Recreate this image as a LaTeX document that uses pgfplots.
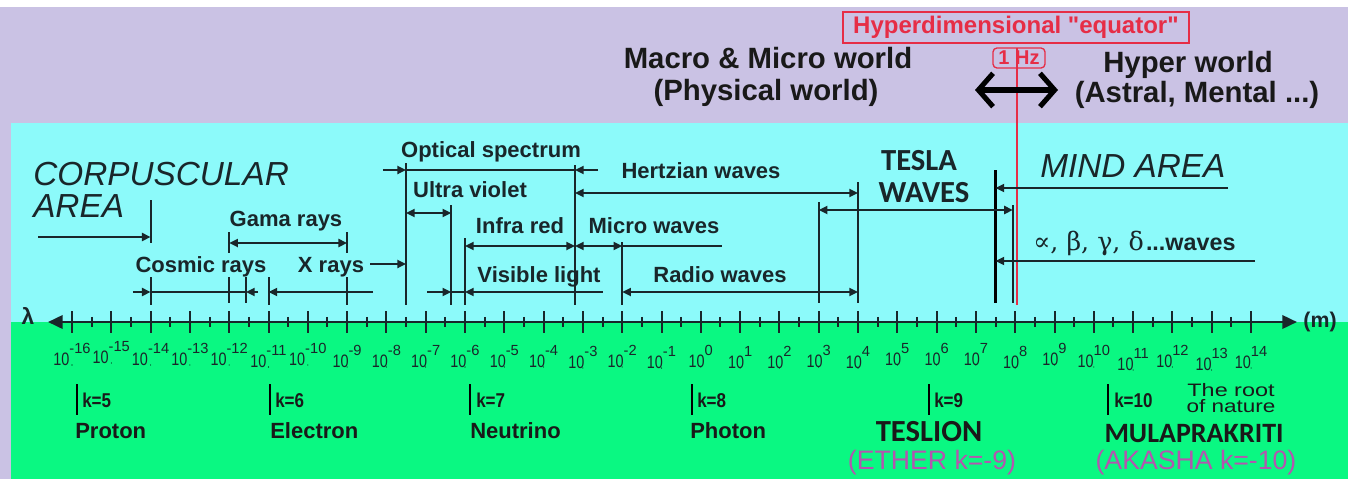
\documentclass[border=0pt]{standalone}
\usepackage{fontspec}
\setmainfont{Liberation Sans}
\newfontfamily\carlito{Carlito}
\newfontfamily\dvs{DejaVu Serif}
\newfontfamily\rawsans[Ligatures=TeXOff]{Liberation Sans}
\usepackage{graphicx}
\usepackage{pgfplots}
\pgfplotsset{compat=1.18}
\usetikzlibrary{arrows.meta}
\definecolor{lav}{RGB}{202,194,228}
\definecolor{cya}{RGB}{140,250,250}
\definecolor{grn}{RGB}{10,248,130}
\definecolor{dk}{RGB}{25,38,42}
\definecolor{rd}{RGB}{230,45,70}
\definecolor{pur}{RGB}{180,85,175}
\newcommand\fs[1]{\fontsize{#1}{#1}\selectfont}
\tikzset{
  ln/.style={dk, line width=1.5pt},
  ar/.style={-{Triangle[length=6.5pt,width=6pt]}},
  aa/.style={{Triangle[length=6.5pt,width=6pt]}-{Triangle[length=6.5pt,width=6pt]}},
  lab/.style={font=\fs{16.5}\bfseries, text=dk, inner sep=0pt, anchor=base},
  big/.style={font=\fs{22}\bfseries, text=black!90, inner sep=0pt, anchor=base},
  bl/.style={font=\fs{16.5}\bfseries, text=black!90, inner sep=0pt, anchor=base west},
  kl/.style={font=\fs{15}\bfseries, text=black!90, inner sep=0pt, anchor=base west},
}
\begin{document}
\begin{tikzpicture}
\begin{axis}[
  scale only axis, width=1011pt, height=359.25pt,
  xmin=-17.832, xmax=16.468, ymin=0, ymax=479, y dir=reverse,
  hide axis, clip=false,
]
% backgrounds
\addplot[fill=white, draw=none] coordinates {(-17.832,0) (16.468,0) (16.468,479) (-17.832,479)};
\addplot[fill=lav, draw=none] coordinates {(-17.832,7) (16.468,7) (16.468,123) (-17.832,123)};
\addplot[fill=lav, draw=none] coordinates {(-17.832,7) (-17.552,7) (-17.552,479) (-17.832,479)};
\addplot[fill=cya, draw=none] coordinates {(-17.552,123) (16.468,123) (16.468,322) (-17.552,322)};
\addplot[fill=grn, draw=none] coordinates {(-17.552,322) (16.468,322) (16.468,479) (-17.552,479)};

% wavelength axis
\addplot[dk, line width=1.9pt, {Triangle[length=11pt,width=10pt]}-{Triangle[length=11pt,width=10pt]}] coordinates {(-16.611,322) (15.17,322)};
\addplot[only marks, mark=|, mark size=7.9pt, mark options={dk, line width=1.5pt}] coordinates {
(-16,322) (-15,322) (-14,322) (-13,322) (-12,322) (-11,322) (-10,322) (-9,322) (-8,322) (-7,322)
(-6,322) (-5,322) (-4,322) (-3,322) (-2,322) (-1,322) (0,322) (1,322) (2,322) (3,322) (4,322)
(5,322) (6,322) (7,322) (8,322) (9,322) (10,322) (11,322) (12,322) (13,322) (14,322)};
\addplot[only marks, mark=|, mark size=3.8pt, mark options={dk, line width=1.5pt}] coordinates {
(-15.5,322) (-14.5,322) (-13.5,322) (-12.5,322) (-11.5,322) (-10.5,322) (-9.5,322) (-8.5,322) (-7.5,322)
(-6.5,322) (-5.5,322) (-4.5,322) (-3.5,322) (-2.5,322) (-1.5,322) (-0.5,322) (0.5,322) (1.5,322) (2.5,322)
(3.5,322) (4.5,322) (5.5,322) (6.5,322) (7.5,322) (8.5,322) (9.5,322) (10.5,322) (11.5,322) (12.5,322) (13.5,322)};
\addplot[only marks, mark=*, mark size=0.1pt, mark options={draw=none, fill=none},
  point meta=explicit symbolic,
  nodes near coords={\fs{13.5}\scalebox{0.8}[1]{10}\raisebox{9pt}{\fs{11}\pgfplotspointmeta}},
  every node near coord/.append style={anchor=base, inner sep=0pt, text=dk}]
  table[x=x, y=y, meta=e] {
x y e
-16 365 -16
-15 363 -15
-14 365 -14
-13 365 -13
-12 365 -12
-11 367 -11
-10 365 -10
-9 367 -9
-8 367 -8
-7 367 -7
-6 367 -6
-5 367 -5
-4 367 -4
-3 368 -3
-2 367 -2
-1 368 -1
0 367 0
1 368 1
2 368 2
3 367 3
4 368 4
5 365 5
6 365 6
7 365 7
8 368 8
9 365 9
10 367 10
11 370 11
12 367 12
13 370 13
14 368 14
};

% vertical bars
\addplot[ln] coordinates {(-14,200) (-14,243)};
\addplot[ln] coordinates {(-14,277) (-14,305)};
\addplot[ln] coordinates {(-12,232) (-12,253)};
\addplot[ln] coordinates {(-12,277) (-12,303)};
\addplot[ln] coordinates {(-11.573,277) (-11.573,303)};
\addplot[ln] coordinates {(-11,277) (-11,305)};
\addplot[ln] coordinates {(-9,232) (-9,253)};
\addplot[ln] coordinates {(-9,277) (-9,305)};
\addplot[ln] coordinates {(-7.5,163) (-7.5,305)};
\addplot[ln] coordinates {(-6.35,205) (-6.35,305)};
\addplot[ln] coordinates {(-6,238) (-6,305)};
\addplot[ln] coordinates {(-3.2,165) (-3.2,305)};
\addplot[ln] coordinates {(-2,242) (-2,305)};
\addplot[ln] coordinates {(3,202) (3,303)};
\addplot[ln] coordinates {(4,182) (4,303)};
\addplot[black, line width=2.6pt] coordinates {(7.5,170) (7.5,303)};
\addplot[ln, line width=1.8pt] coordinates {(7.94,205) (7.94,303)};
\addplot[rd, line width=0.9pt] coordinates {(8.046,48) (8.046,305)};

% range arrows
\addplot[ln, ar] coordinates {(-16.865,237) (-14,237)};
\addplot[ln, aa] coordinates {(-12,243) (-9,243)};
\addplot[ln, ar] coordinates {(-14.448,292) (-14,292)};
\addplot[ln] coordinates {(-14,292) (-11.573,292)};
\addplot[ln, ar] coordinates {(-11.267,292) (-11.573,292)};
\addplot[ln, ar] coordinates {(-8.341,292) (-11,292)};
\addplot[ln, ar] coordinates {(-8.417,264) (-7.5,264)};
\addplot[ln, ar] coordinates {(-8.087,170) (-7.5,170)};
\addplot[ln] coordinates {(-7.5,170) (-3.2,170)};
\addplot[ln, ar] coordinates {(-2.616,170) (-3.2,170)};
\addplot[ln, aa] coordinates {(-3.2,193) (4,193)};
\addplot[ln, aa] coordinates {(-7.5,213) (-6.35,213)};
\addplot[ln, aa] coordinates {(-6,246) (-3.2,246)};
\addplot[ln, aa] coordinates {(-3.2,246) (-2,246)};
\addplot[ln] coordinates {(-2,246) (0.539,246)};
\addplot[ln, ar] coordinates {(-6.967,292) (-6.35,292)};
\addplot[ln] coordinates {(-6.35,292) (-6,292)};
\addplot[ln, ar] coordinates {(-2.489,292) (-6,292)};
\addplot[ln, aa] coordinates {(-2,292) (4,292)};
\addplot[ln, aa] coordinates {(3,210) (7.94,210)};
\addplot[ln, ar] coordinates {(13.415,188) (7.5,188)};
\addplot[ln, ar] coordinates {(14.102,261) (7.5,261)};

% equator double arrow
\addplot[black, line width=3.8pt, {Straight Barb[length=11pt,width=25pt]}-{Straight Barb[length=11pt,width=25pt]}] coordinates {(6.977,90) (9.089,90)};

% boxes
\draw[rd, line width=1.2pt] (axis cs:3.618,12) rectangle (axis cs:12.423,43);
\draw[rd, line width=1pt, rounded corners=3pt] (axis cs:7.435,48) rectangle (axis cs:8.758,68);

% top texts
\node[big] at (axis cs:{768/39.3-17.832},68) {Macro \& Micro world};
\node[big] at (axis cs:{766/39.3-17.832},100) {(Physical world)};
\node[big] at (axis cs:{1188/39.3-17.832},72) {Hyper world};
\node[big] at (axis cs:{1197/39.3-17.832},102) {(Astral, Mental ...)};
\node[font=\fs{18}\rawsans\bfseries, text=rd, inner sep=0pt, anchor=base] at (axis cs:{1016/39.3-17.832},33) {Hyperdimensional "equator"};
\node[font=\fs{15}\bfseries, text=rd, inner sep=0pt, anchor=base] at (axis cs:{1019/39.3-17.832},64.5) {1 Hz};

% cyan area texts
\node[anchor=base west, inner sep=0pt, font=\fs{25}\itshape, text=dk] at (axis cs:{33/39.3-17.832},185) {CORPUSCULAR};
\node[anchor=base west, inner sep=0pt, font=\fs{25}\itshape, text=dk] at (axis cs:{33/39.3-17.832},217) {AREA};
\node[anchor=base west, inner sep=0pt, font=\fs{25}\itshape, text=dk] at (axis cs:{1040/39.3-17.832},177) {MIND AREA};
\node[lab] at (axis cs:{286/39.3-17.832},226) {Gama rays};
\node[lab] at (axis cs:{201/39.3-17.832},272) {Cosmic rays};
\node[lab] at (axis cs:{331/39.3-17.832},272) {X rays};
\node[lab] at (axis cs:{491/39.3-17.832},157) {Optical spectrum};
\node[lab] at (axis cs:{701/39.3-17.832},178) {Hertzian waves};
\node[lab] at (axis cs:{470/39.3-17.832},197) {Ultra violet};
\node[lab] at (axis cs:{520/39.3-17.832},233) {Infra red};
\node[lab] at (axis cs:{654/39.3-17.832},233) {Micro waves};
\node[lab] at (axis cs:{539/39.3-17.832},282) {Visible light};
\node[lab] at (axis cs:{720/39.3-17.832},282) {Radio waves};
\node[font=\fs{23}\carlito\bfseries, text=dk, inner sep=0pt, anchor=base] at (axis cs:{919/39.3-17.832},170) {TESLA};
\node[font=\fs{23}\carlito\bfseries, text=dk, inner sep=0pt, anchor=base] at (axis cs:{924/39.3-17.832},202) {WAVES};
\node[anchor=base west, inner sep=0pt, text=dk] at (axis cs:{1033/39.3-17.832},250) {{\dvs\fs{19}∝, β, γ, δ}\,{\fs{17.5}\bfseries ...waves}};

% axis end labels
\node[font=\fs{17}\bfseries, text=dk, inner sep=0pt] at (axis cs:{28/39.3-17.832},316) {λ};
\node[font=\fs{16}\bfseries, text=dk, inner sep=0pt] at (axis cs:{1320/39.3-17.832},322) {(m)};

% bottom: particles
\addplot[black, line width=1.5pt] coordinates {(-15.873,384) (-15.873,415)};
\addplot[black, line width=1.5pt] coordinates {(-10.962,384) (-10.962,415)};
\addplot[black, line width=1.5pt] coordinates {(-5.873,384) (-5.873,415)};
\addplot[black, line width=1.5pt] coordinates {(-0.224,384) (-0.224,415)};
\addplot[black, line width=1.5pt] coordinates {(5.807,384) (5.807,415)};
\addplot[black, line width=1.5pt] coordinates {(10.361,384) (10.361,415)};
\node[kl] at (axis cs:{82/39.3-17.832},407) {\scalebox{0.85}[1]{k=5}};
\node[kl] at (axis cs:{275/39.3-17.832},407) {\scalebox{0.85}[1]{k=6}};
\node[kl] at (axis cs:{476/39.3-17.832},407) {\scalebox{0.85}[1]{k=7}};
\node[kl] at (axis cs:{697/39.3-17.832},407) {\scalebox{0.85}[1]{k=8}};
\node[kl] at (axis cs:{934/39.3-17.832},407) {\scalebox{0.85}[1]{k=9}};
\node[kl] at (axis cs:{1114/39.3-17.832},407) {\scalebox{0.85}[1]{k=10}};
\node[bl] at (axis cs:{75/39.3-17.832},438) {Proton};
\node[bl] at (axis cs:{270/39.3-17.832},438) {Electron};
\node[bl] at (axis cs:{470/39.3-17.832},438) {Neutrino};
\node[bl] at (axis cs:{690/39.3-17.832},438) {Photon};
\node[font=\fs{23}\carlito\bfseries, text=black!90, inner sep=0pt, anchor=base] at (axis cs:{929/39.3-17.832},441) {TESLION};
\node[font=\fs{21}\carlito\bfseries, text=black!90, inner sep=0pt, anchor=base] at (axis cs:{1194/39.3-17.832},442) {MULAPRAKRITI};
\node[font=\fs{20}, text=pur, inner sep=0pt, anchor=base] at (axis cs:{932/39.3-17.832},469) {(ETHER k=-9)};
\node[font=\fs{20}, text=pur, inner sep=0pt, anchor=base] at (axis cs:{1196/39.3-17.832},469) {(AKASHA k=-10)};
\node[font=\fs{13.5}, text=black!90, inner sep=0pt, anchor=base] at (axis cs:{1231/39.3-17.832},396) {\scalebox{1.3}[1]{The root}};
\node[font=\fs{13.5}, text=black!90, inner sep=0pt, anchor=base] at (axis cs:{1231/39.3-17.832},412) {\scalebox{1.25}[1]{of nature}};
\end{axis}
\end{tikzpicture}
\end{document}
